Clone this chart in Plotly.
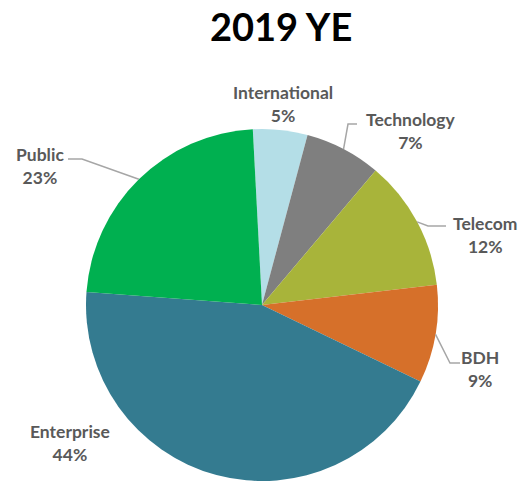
import math
import plotly.graph_objects as go

# Portfolio mix at year end 2019 (share of total, %)
segments = ["International", "Technology", "Telecom", "BDH", "Enterprise", "Public"]
shares = [5, 7, 12, 9, 44, 23]
colors = ["#B4DEE7", "#7F7F7F", "#A8B43A", "#D6702A", "#347B90", "#00B050"]

W, H = 531, 485
CX, CY, R = 262, 305, 176      # pie centre and radius in pixels
ROTATION = -3                  # start angle of the first slice (deg, clockwise from 12 o'clock)

LABEL_FONT = dict(family="Lato, 'Open Sans', sans-serif", size=17.5, color="#595959")

# label text centre (px) and leader-line knee points (px) per segment
label_pos = {
    "International": (283, 104),
    "Technology": (411, 131),
    "Telecom": (485, 235),
    "BDH": (480, 369),
    "Enterprise": (70, 443),
    "Public": (40, 166),
}
leader_knees = {
    "Technology": [(357, 124), (348, 124)],
    "Telecom": [(446, 226), (428, 226)],
    "BDH": [(460, 363), (450, 363)],
    "Public": [(68, 159), (82, 159)],
}


def px(x, y):
    return x / W, 1 - y / H


fig = go.Figure()
fig.add_trace(go.Pie(
    labels=segments,
    values=shares,
    sort=False,
    direction="clockwise",
    rotation=ROTATION,
    marker=dict(colors=colors, line=dict(width=0)),
    textinfo="none",
    hoverinfo="skip",
    showlegend=False,
    domain=dict(x=[(CX - R) / W, (CX + R) / W], y=[1 - (CY + R) / H, 1 - (CY - R) / H]),
))

annotations = []
shapes = []
total = sum(shares)
cum = 0.0
for name, val in zip(segments, shares):
    mid = ROTATION + 360 * (cum + val / 2) / total
    cum += val
    lx, ly = label_pos[name]
    annotations.append(dict(
        x=lx / W, y=1 - ly / H, xref="paper", yref="paper",
        text=f"<b>{name}</b><br><b>{val}%</b>", showarrow=False,
        font=LABEL_FONT, align="center", xanchor="center", yanchor="middle",
    ))
    if name in leader_knees:
        a = math.radians(mid)
        ex, ey = CX + R * math.sin(a), CY - R * math.cos(a)
        pts = leader_knees[name] + [(ex, ey)]
        path = "M " + " L ".join(f"{px(x, y)[0]},{px(x, y)[1]}" for x, y in pts)
        shapes.append(dict(type="path", xref="paper", yref="paper", path=path,
                           line=dict(color="#A6A6A6", width=1.5)))

annotations.append(dict(
    x=281 / W, y=1 - 26 / H, xref="paper", yref="paper",
    text="<b>2019 YE</b>", showarrow=False,
    font=dict(family="Lato, 'Open Sans', sans-serif", size=38, color="#000000"),
    xanchor="center", yanchor="middle",
))

fig.update_layout(
    width=W, height=H,
    margin=dict(l=0, r=0, t=0, b=0),
    paper_bgcolor="white", plot_bgcolor="white",
    annotations=annotations, shapes=shapes,
)

fig.write_html("out.html")
